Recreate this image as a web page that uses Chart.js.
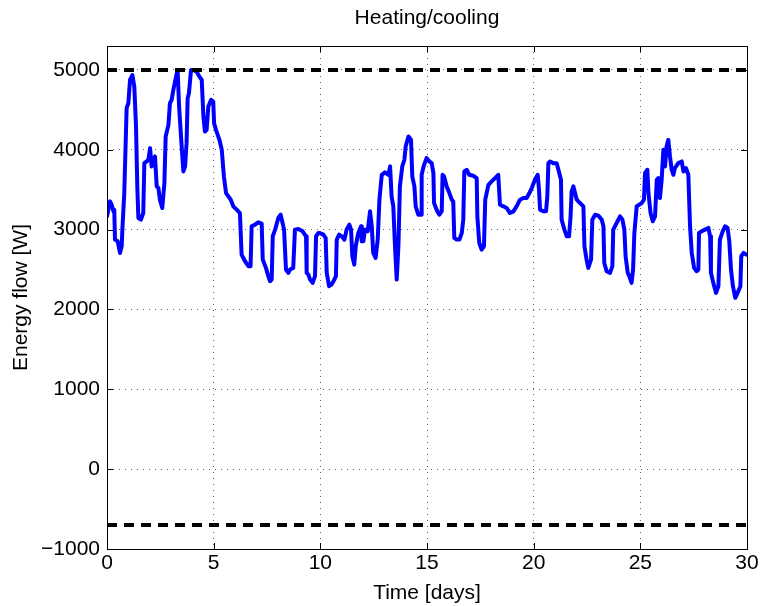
<!DOCTYPE html>
<html>
<head>
<meta charset="utf-8">
<script src="https://cdn.jsdelivr.net/npm/chart.js@4/dist/chart.umd.min.js"></script>
<style>
  html, body { margin: 0; padding: 0; background: #fff; }
  #wrap { width: 763px; height: 606px; }
</style>
</head>
<body>
<div id="wrap"><canvas id="c" width="763" height="606"></canvas></div>
<script>
// ---- data ----
const days = [
  0.00,0.14,0.22,0.30,0.34,0.375,0.50,0.61,0.69,0.72,0.81,0.92,1.00,1.08,1.19,1.28,1.36,1.42,1.47,1.59,
  1.70,1.75,1.86,1.94,2.02,2.09,2.17,2.25,2.33,2.41,2.48,2.59,2.69,2.75,2.88,2.95,3.03,3.11,3.27,3.31,
  3.38,3.50,3.58,3.66,3.73,3.78,3.84,3.94,4.05,4.20,4.33,4.44,4.52,4.59,4.67,4.75,4.88,4.98,5.02,5.11,
  5.27,5.38,5.48,5.58,5.69,5.80,5.92,6.08,6.23,6.31,6.47,6.63,6.73,6.78,6.94,7.09,7.25,7.30,7.45,7.56,
  7.64,7.72,7.77,7.88,8.03,8.14,8.23,8.30,8.39,8.50,8.58,8.73,8.81,8.97,9.17,9.33,9.36,9.44,9.52,9.64,
  9.75,9.80,9.91,9.98,10.14,10.25,10.30,10.41,10.53,10.66,10.73,10.77,10.88,11.00,11.13,11.23,11.36,11.44,11.50,11.59,
  11.66,11.78,11.91,11.94,12.02,12.09,12.22,12.33,12.41,12.48,12.59,12.69,12.77,12.88,13.03,13.19,13.27,13.34,13.42,13.50,
  13.58,13.66,13.73,13.84,13.94,14.00,14.13,14.25,14.31,14.41,14.47,14.59,14.72,14.75,14.85,14.98,15.11,15.22,15.30,15.33,
  15.45,15.58,15.69,15.73,15.80,15.92,16.05,16.16,16.23,16.28,16.39,16.52,16.63,16.70,16.75,16.86,16.98,17.17,17.33,17.36,
  17.45,17.56,17.67,17.73,17.88,18.03,18.19,18.34,18.42,18.58,18.73,18.89,19.05,19.20,19.36,19.52,19.67,19.80,19.91,20.06,
  20.19,20.25,20.30,20.45,20.58,20.64,20.69,20.77,20.92,21.08,21.16,21.28,21.31,21.44,21.55,21.66,21.73,21.78,21.86,21.94,
  22.02,22.17,22.33,22.38,22.48,22.56,22.69,22.75,22.88,23.03,23.19,23.27,23.31,23.42,23.58,23.69,23.73,23.89,24.05,24.16,
  24.25,24.31,24.41,24.48,24.59,24.66,24.72,24.83,24.95,25.06,25.17,25.22,25.33,25.38,25.48,25.58,25.69,25.77,25.84,25.92,
  26.00,26.08,26.16,26.23,26.31,26.39,26.47,26.55,26.62,26.78,26.94,27.02,27.14,27.25,27.33,27.41,27.52,27.64,27.72,27.75,
  27.88,28.03,28.19,28.27,28.31,28.42,28.55,28.66,28.73,28.86,28.97,29.09,29.17,29.25,29.34,29.45,29.56,29.69,29.73,29.84,
  29.97
];
const flow = [
  3167,3354,3312,3229,3250,2875,2854,2708,2792,3000,3458,4521,4583,4875,4937,4792,4292,3542,3146,3125,
  3208,3833,3854,3875,4021,3792,3875,3917,3542,3521,3375,3271,3583,4167,4312,4583,4625,4750,4958,5000,
  4542,4042,3729,3792,4083,4646,4708,5000,5000,4979,4917,4875,4417,4229,4250,4542,4625,4604,4333,4250,
  4125,4000,3667,3458,3417,3375,3292,3250,3208,2688,2604,2542,2542,3042,3062,3092,3075,2625,2521,2417,
  2354,2375,2917,3000,3146,3187,3083,3000,2500,2458,2500,2521,3000,3008,2979,2917,2458,2437,2375,2333,
  2417,2917,2958,2958,2937,2896,2458,2292,2312,2375,2417,2875,2937,2917,2875,3000,3062,3000,2667,2562,
  2792,2958,3042,2854,2854,3000,2979,3229,3042,2708,2646,2875,3375,3687,3717,3687,3792,3417,3292,2792,
  2375,2792,3542,3792,3875,4042,4167,4125,3667,3542,3292,3187,3187,3687,3800,3896,3854,3833,3708,3333,
  3250,3187,3229,3687,3667,3542,3458,3375,3354,2896,2875,2875,2958,3125,3729,3750,3687,3675,3646,3167,
  2833,2750,2792,3375,3562,3604,3646,3687,3312,3292,3271,3208,3229,3292,3375,3396,3396,3458,3521,3625,
  3687,3500,3250,3229,3229,3417,3833,3854,3833,3833,3750,3625,3125,3000,2917,2917,3167,3479,3542,3458,
  3375,3333,3292,2792,2625,2521,2625,3125,3187,3175,3125,3042,2583,2479,2458,2542,3000,3083,3167,3125,
  3000,2667,2458,2417,2333,2500,2958,3292,3312,3333,3375,3708,3750,3458,3208,3104,3167,3625,3646,3396,
  3625,4000,3792,4042,4125,3917,3750,3687,3771,3833,3854,3729,3771,3687,3042,2708,2521,2479,2500,2958,
  2979,3000,3021,2917,2458,2333,2208,2292,2875,2979,3042,3021,2854,2500,2292,2146,2208,2292,2667,2708,
  2687
];
const limitDays = [0, 30];
const upperLimit = [5000, 5000];
const lowerLimit = [-700, -700];
const xTicks = [0, 5, 10, 15, 20, 25, 30];
const yTicks = [-1000, 0, 1000, 2000, 3000, 4000, 5000];
const yMin = -1000, yMax = 5300;

const FONT = '"Liberation Sans", Arial, Helvetica, sans-serif';

const toPts = (xs, ys) => xs.map((x, i) => ({ x: x, y: ys[i] }));

// frame + inward tick marks (MATLAB style)
const framePlugin = {
  id: 'frame',
  afterDatasetsDraw(chart) {
    const { ctx, chartArea: a, scales } = chart;
    ctx.save();
    ctx.setLineDash([]);
    ctx.strokeStyle = '#000';
    ctx.lineWidth = 1;
    ctx.strokeRect(a.left + 0.5, a.top + 0.5, a.right - a.left, a.bottom - a.top);
    const L = 6;
    ctx.beginPath();
    xTicks.forEach(v => {
      const px = Math.round(scales.x.getPixelForValue(v)) + 0.5;
      ctx.moveTo(px, a.bottom); ctx.lineTo(px, a.bottom - L);
      ctx.moveTo(px, a.top); ctx.lineTo(px, a.top + L);
    });
    yTicks.forEach(v => {
      const py = Math.round(scales.y.getPixelForValue(v)) + 0.5;
      ctx.moveTo(a.left, py); ctx.lineTo(a.left + L, py);
      ctx.moveTo(a.right, py); ctx.lineTo(a.right - L, py);
    });
    ctx.stroke();
    ctx.restore();
  }
};

new Chart(document.getElementById('c'), {
  type: 'line',
  data: {
    datasets: [
      {
        label: 'Heating/cooling',
        data: toPts(days, flow),
        borderColor: '#0000ff',
        borderWidth: 4,
        borderJoinStyle: 'round',
        borderCapStyle: 'round',
        pointRadius: 0,
        tension: 0,
        fill: false,
        order: 2
      },
      {
        label: 'Upper limit',
        data: toPts(limitDays, upperLimit),
        borderColor: '#000',
        borderWidth: 4,
        borderDash: [10, 7],
        borderCapStyle: 'butt',
        pointRadius: 0,
        fill: false,
        order: 1
      },
      {
        label: 'Lower limit',
        data: toPts(limitDays, lowerLimit),
        borderColor: '#000',
        borderWidth: 4,
        borderDash: [10, 7],
        borderCapStyle: 'butt',
        pointRadius: 0,
        fill: false,
        order: 1
      }
    ]
  },
  options: {
    responsive: false,
    animation: false,
    devicePixelRatio: 1,
    layout: { padding: { left: 0, right: 16, top: 0, bottom: 0 } },
    plugins: {
      legend: { display: false },
      tooltip: { enabled: false },
      title: {
        display: true,
        fullSize: false,
        text: 'Heating/cooling',
        color: '#000',
        font: { family: FONT, size: 21, weight: 'normal' },
        padding: { top: 6, bottom: 14.8 }
      }
    },
    scales: {
      x: {
        type: 'linear',
        min: 0, max: 30,
        afterBuildTicks: s => { s.ticks = xTicks.map(v => ({ value: v })); },
        afterFit: s => { s.height = 57; },
        ticks: {
          color: '#000',
          font: { family: FONT, size: 21 },
          padding: 2,
          maxRotation: 0,
          autoSkip: false
        },
        grid: {
          color: 'rgba(0,0,0,0.6)',
          lineWidth: 1,
          drawTicks: false
        },
        border: { display: false, dash: [1, 5] },
        title: {
          display: true,
          text: 'Time [days]',
          color: '#000',
          font: { family: FONT, size: 21 },
          padding: { top: 0, bottom: 0 }
        }
      },
      y: {
        type: 'linear',
        min: yMin, max: yMax,
        afterBuildTicks: s => { s.ticks = yTicks.map(v => ({ value: v })); },
        afterFit: s => { s.width = 107; },
        ticks: {
          color: '#000',
          font: { family: FONT, size: 21 },
          padding: 7,
          callback: v => (v < 0 ? '\u2212' + Math.abs(v) : String(v))
        },
        grid: {
          color: 'rgba(0,0,0,0.6)',
          lineWidth: 1,
          drawTicks: false
        },
        border: { display: false, dash: [1, 5] },
        title: {
          display: true,
          text: 'Energy flow [W]',
          color: '#000',
          font: { family: FONT, size: 21 },
          padding: { top: 9, bottom: 0 }
        }
      }
    }
  },
  plugins: [framePlugin]
});
</script>
</body>
</html>
